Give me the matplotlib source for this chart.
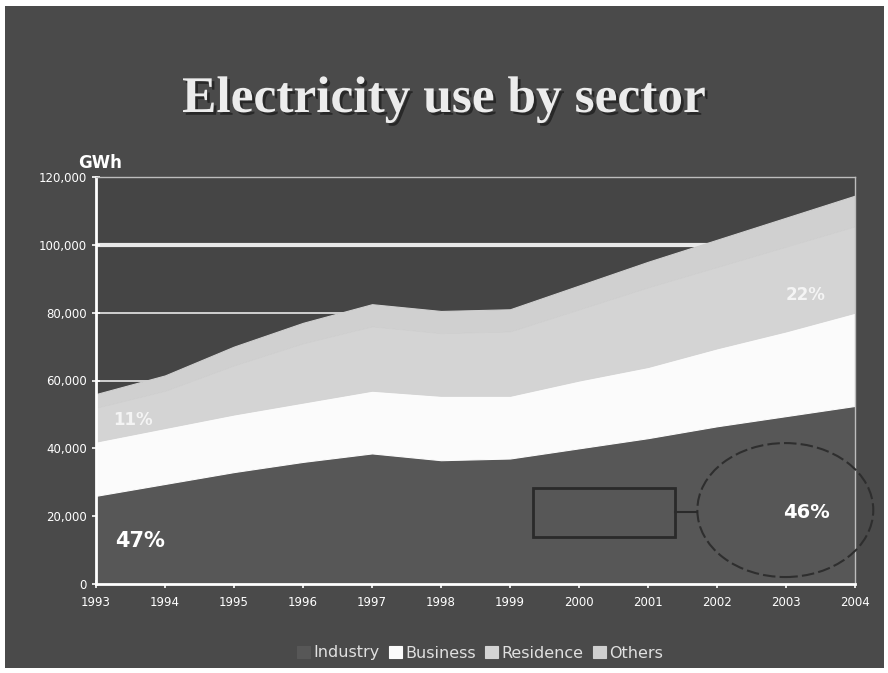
import matplotlib
matplotlib.use('Agg')
import matplotlib.pyplot as plt
from matplotlib.patches import Ellipse, Rectangle
from matplotlib import patheffects as pe

# data (GWh)
years = [1993, 1994, 1995, 1996, 1997, 1998, 1999, 2000, 2001, 2002, 2003, 2004]
industry = [26000, 29500, 33000, 36000, 38500, 36500, 37000, 40000, 43000, 46500, 49500, 52500]
business = [16000, 16500, 17000, 17500, 18500, 19000, 18500, 20000, 21000, 23000, 25000, 27500]
residence = [10000, 11000, 14500, 17500, 19000, 18500, 19000, 21000, 23500, 24000, 25000, 25500]
others = [4000, 4500, 5500, 6000, 6500, 6500, 6500, 7000, 7500, 8000, 8500, 9000]
sectors = ['Industry', 'Business', 'Residence', 'Others']
y_ticks = [0, 20000, 40000, 60000, 80000, 100000, 120000]

bg = '#4a4a4a'
colors = ['#575757', '#fbfbfb', '#d4d4d4', '#d0d0d0']

fig = plt.figure(figsize=(8.88, 6.73), dpi=100, facecolor='white')
# dark slide with a thin white margin
fig.patches.append(Rectangle((5/888, 5/673), 879/888, 662/673, transform=fig.transFigure,
                             facecolor=bg, edgecolor='none', zorder=-10))

ax = fig.add_axes([96/888, 1 - 584/673, 759/888, 407/673])
ax.set_facecolor('#454545')

# gridlines under the areas
for t in y_ticks[1:]:
    lw = 3 if t == 100000 else 1.2
    ax.axhline(t, color='#e8e8e8', lw=lw, zorder=0)

polys = ax.stackplot(years, industry, business, residence, others, colors=colors,
                     labels=sectors, zorder=2)
for p, c in zip(polys, colors):
    p.set_edgecolor(c)
    p.set_linewidth(0.8)

ax.set_xlim(1993, 2004)
ax.set_ylim(0, 120000)
ax.set_xticks(years)
ax.set_xticklabels([str(y) for y in years])
ax.set_yticks(y_ticks)
ax.set_yticklabels(['{:,}'.format(t) for t in y_ticks])
ax.tick_params(colors='white', labelsize=8.5, direction='inout', length=6, width=1.2)
ax.tick_params(axis='x', pad=6)
for s in ['left', 'bottom']:
    ax.spines[s].set_color('white')
    ax.spines[s].set_linewidth(2)
for s in ['top', 'right']:
    ax.spines[s].set_color('#bdbdbd')
    ax.spines[s].set_linewidth(1)

# share labels
ax.text(1993.64, 12700, '47%', color='white', fontsize=15, fontweight='bold',
        ha='center', va='center', zorder=5)
ax.text(2003.29, 21200, '46%', color='white', fontsize=14, fontweight='bold',
        ha='center', va='center', zorder=5)
ax.text(1993.54, 48400, '11%', color='#f4f4f4', fontsize=12, fontweight='bold',
        ha='center', va='center', zorder=5)
ax.text(2003.28, 85300, '22%', color='#f4f4f4', fontsize=12, fontweight='bold',
        ha='center', va='center', zorder=5)

# callout: circle round 46% and an empty box linked to it
ax.add_patch(Ellipse((2002.99, 21800), 2.55, 39500, fill=False, edgecolor='#2e2e2e',
                     lw=1.5, ls=(0, (6, 2)), clip_on=False, zorder=6))
ax.add_patch(Rectangle((1999.33, 13900), 2.06, 14400, fill=False, edgecolor='#2a2a2a',
                       lw=2, zorder=6))
ax.plot([2001.39, 2001.71], [21200, 21200], color='#2a2a2a', lw=1.5, zorder=6)

# titles
fig.text(0.5, 1 - 100/673, 'Electricity use by sector', ha='center', va='center',
         fontsize=37, family='Liberation Serif', fontweight='bold', color='#ececec',
         path_effects=[pe.withSimplePatchShadow(offset=(2, -2), shadow_rgbFace='#202020', alpha=0.8)])
fig.text(100/888, 1 - 163/673, 'GWh', ha='center', va='center', fontsize=12,
         fontweight='bold', color='white')

fig.legend(loc='center', bbox_to_anchor=(480/888, 1 - 653/673), ncol=4, frameon=False,
           fontsize=11.5, handlelength=0.8, handleheight=0.8, handletextpad=0.2,
           columnspacing=0.6, labelcolor='#e0e0e0')

plt.savefig('out.png', dpi=100, facecolor=fig.get_facecolor())
